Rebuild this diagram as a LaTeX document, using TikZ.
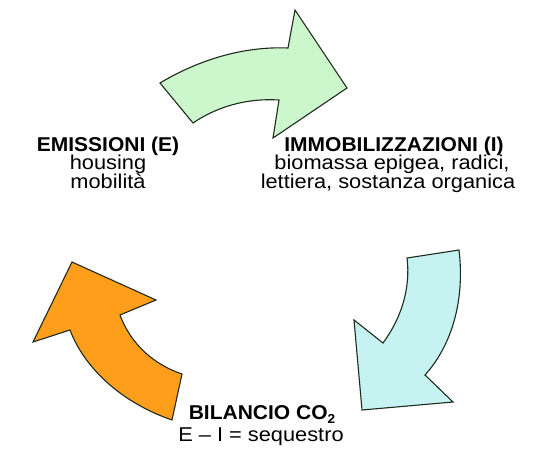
\documentclass[tikz,border=0pt]{standalone}
\usepackage{fontspec}
\setmainfont{Liberation Sans}
\newfontfamily\regfont[FakeStretch=1.09]{Liberation Sans}
\newfontfamily\boldfont[FakeStretch=1.05]{Liberation Sans Bold}
\definecolor{arrgreen}{HTML}{CCF7CC}
\definecolor{arrcyan}{HTML}{C6F3F1}
\definecolor{arrorange}{HTML}{FF9E1B}
\definecolor{edge}{HTML}{1E2A1E}
\begin{document}
\begin{tikzpicture}[x=1pt,y=-1pt,
  arrowshape/.style={draw=edge, line width=1.1pt, line join=miter},
  headtxt/.style={font=\boldfont\fontsize{20}{20}\selectfont, anchor=base, inner sep=0pt},
  bodytxt/.style={font=\regfont\fontsize{20}{20}\selectfont, anchor=base, inner sep=0pt}]
\useasboundingbox[fill=white] (0,0) rectangle (541,450);

% green arrow (top)
\draw[arrowshape, fill=arrgreen]
  (160,83) .. controls (195,62) and (240,46) .. (288,48)
  -- (295,10) -- (347,88) -- (273,138) -- (279,100)
  .. controls (248,98) and (218,106) .. (193,123) -- cycle;

% cyan arrow (right)
\draw[arrowshape, fill=arrcyan]
  (407,258) -- (459,250)
  .. controls (465,300) and (452,345) .. (425,375)
  -- (453,402) -- (362,410) -- (354,320) -- (383,343)
  .. controls (400,320) and (411,290) .. (407,258) -- cycle;

% orange arrow (left)
\draw[arrowshape, fill=arrorange]
  (72,262) -- (156,300) -- (120,315)
  .. controls (131,345) and (155,365) .. (182,374)
  -- (172,420)
  .. controls (120,402) and (84,367) .. (70,330)
  -- (33,342) -- cycle;

% texts
\node[headtxt] (emis) at (108,151) {EMISSIONI (E)};
\node[bodytxt] (emis2) at (108,169.5) {housing};
\node[bodytxt] (emis3) at (108,188) {mobilità};

\node[headtxt] (immo) at (394,151) {IMMOBILIZZAZIONI (I)};
\node[bodytxt] (immo2) at (392,169.5) {biomassa epigea, radici,};
\node[bodytxt] (immo3) at (388,188) {lettiera, sostanza organica};

\node[headtxt] (bil) at (262,419) {BILANCIO CO\raisebox{-4pt}{\fontsize{13}{13}\selectfont 2}};
\node[bodytxt] (bil2) at (261,441) {E – I = sequestro};
\end{tikzpicture}
\end{document}
